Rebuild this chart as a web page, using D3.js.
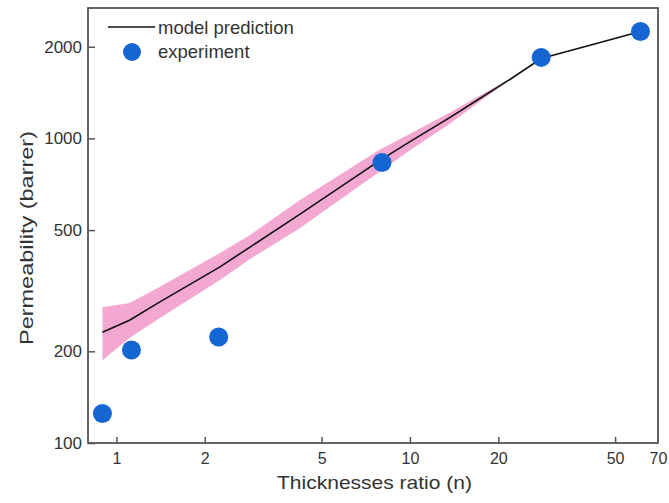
<!DOCTYPE html>
<html>
<head>
<meta charset="utf-8">
<script src="https://cdn.jsdelivr.net/npm/d3@7"></script>
<style>
  body { margin: 0; background: #fff; }
  svg text { font-family: "Liberation Sans", Arial, sans-serif; fill: #333; }
</style>
</head>
<body>
<svg id="chart"></svg>
<script>
// experiment points
const expX = [0.896, 1.125, 2.23, 8.03, 28.0, 61.0];
const expY = [125, 202, 223, 834, 1845, 2244];

// model prediction line
const modelX = [0.896, 1.108, 1.402, 2.246, 2.844, 4.21, 7.90, 10.2, 13.7, 17.3, 21.9, 28.0, 61.0];
const modelY = [231, 253, 290, 378, 439, 563, 847, 987, 1172, 1352, 1561, 1829, 2244];

// uncertainty band around the model
const bandX = [0.896, 1.108, 1.402, 2.246, 2.844, 4.21, 7.90, 10.2, 13.7, 17.3, 21.6];
const bandLow = [187, 221, 257, 342, 401, 507, 779, 927, 1120, 1323, 1545];
const bandHigh = [279, 288, 325, 420, 481, 626, 920, 1046, 1217, 1384, 1555];

const xTicks = [1, 2, 5, 10, 20, 50, 70];
const yTicks = [100, 200, 500, 1000, 2000];

const config = {
    width: 669, height: 503,
    margin: {top: 8, right: 11, bottom: 60, left: 88}
};
const innerW = config.width - config.margin.left - config.margin.right;
const innerH = config.height - config.margin.top - config.margin.bottom;

const svg = d3.select('#chart')
    .attr('width', config.width)
    .attr('height', config.height);

const chart = svg.append('g')
    .attr('transform', `translate(${config.margin.left},${config.margin.top})`);

const x = d3.scaleLog().domain([0.8, 70]).range([0, innerW]);
const y = d3.scaleLog().domain([100, 2680]).range([innerH, 0]);

// band
const band = bandX.map((d, i) => ({x: d, lo: bandLow[i], hi: bandHigh[i]}));
chart.append('path')
    .datum(band)
    .attr('fill', '#f2a8d1')
    .attr('d', d3.area().x(d => x(d.x)).y0(d => y(d.lo)).y1(d => y(d.hi)));

// model line
const model = modelX.map((d, i) => ({x: d, y: modelY[i]}));
chart.append('path')
    .datum(model)
    .attr('fill', 'none')
    .attr('stroke', '#111')
    .attr('stroke-width', 1.6)
    .attr('d', d3.line().x(d => x(d.x)).y(d => y(d.y)));

// experiment markers
chart.selectAll('.pt')
    .data(expX.map((d, i) => ({x: d, y: expY[i]})))
    .enter()
    .append('circle')
    .attr('class', 'pt')
    .attr('cx', d => x(d.x))
    .attr('cy', d => y(d.y))
    .attr('r', 9.5)
    .attr('fill', '#1565d2');

// axes (ticks point inward)
const xAxis = chart.append('g')
    .attr('transform', `translate(0,${innerH})`)
    .call(d3.axisBottom(x).tickValues(xTicks).tickFormat(d3.format('d')).tickSize(-6).tickPadding(10));
const yAxis = chart.append('g')
    .call(d3.axisLeft(y).tickValues(yTicks).tickFormat(d3.format('d')).tickSize(-7).tickPadding(6));

[xAxis, yAxis].forEach(a => {
    a.select('.domain').remove();
    a.selectAll('line').attr('stroke', '#555').attr('stroke-width', 1.5);
    a.selectAll('text').attr('fill', '#333');
});
xAxis.selectAll('text').attr('font-size', 16);
yAxis.selectAll('text').attr('font-size', 17);
xAxis.selectAll('.tick').filter(d => d === 70).select('line').remove();

// frame
chart.append('rect')
    .attr('width', innerW)
    .attr('height', innerH)
    .attr('fill', 'none')
    .attr('stroke', '#555')
    .attr('stroke-width', 1.8);

// axis titles
svg.append('text')
    .attr('x', 277)
    .attr('y', 489)
    .attr('font-size', 19)
    .attr('textLength', 195)
    .attr('lengthAdjust', 'spacingAndGlyphs')
    .text('Thicknesses ratio (n)');

svg.append('text')
    .attr('transform', 'translate(33,345) rotate(-90)')
    .attr('font-size', 19)
    .attr('textLength', 214)
    .attr('lengthAdjust', 'spacingAndGlyphs')
    .text('Permeability (barrer)');

// legend
const legend = svg.append('g');
legend.append('line')
    .attr('x1', 108).attr('x2', 155)
    .attr('y1', 27).attr('y2', 27)
    .attr('stroke', '#111').attr('stroke-width', 1.6);
legend.append('text')
    .attr('x', 158).attr('y', 34)
    .attr('font-size', 18.5)
    .text('model prediction');
legend.append('circle')
    .attr('cx', 132).attr('cy', 52).attr('r', 9)
    .attr('fill', '#1565d2');
legend.append('text')
    .attr('x', 158).attr('y', 58)
    .attr('font-size', 18.5)
    .text('experiment');
</script>
</body>
</html>
